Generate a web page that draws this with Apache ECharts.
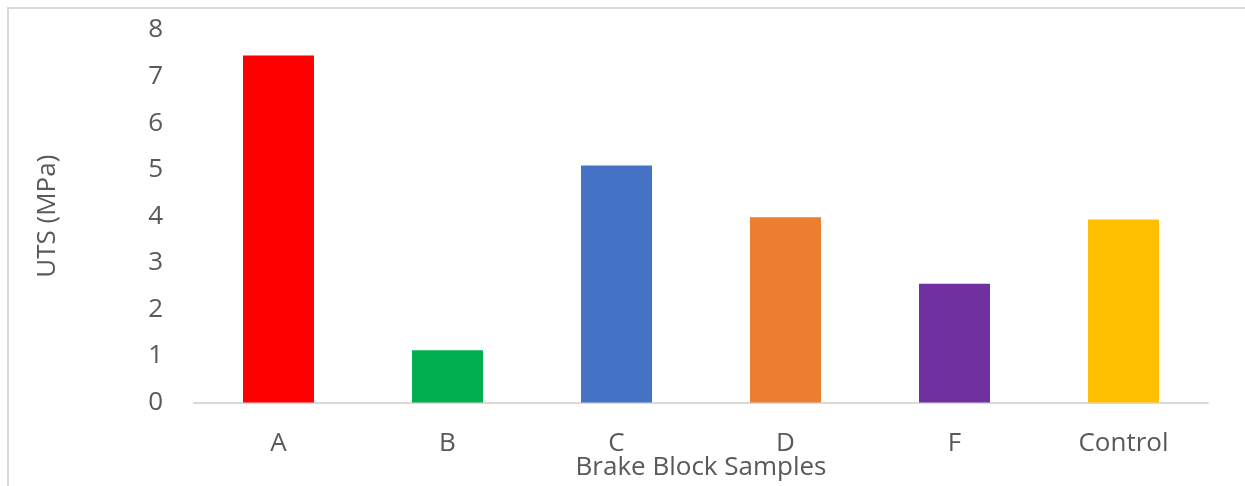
<!DOCTYPE html>
<html>
<head>
<meta charset="utf-8">
<script src="https://cdn.jsdelivr.net/npm/echarts@6/dist/echarts.min.js"></script>
<style>
  html, body { margin: 0; padding: 0; background: #ffffff; }
  #main { width: 1245px; height: 486px; }
</style>
</head>
<body>
<div id="main"></div>
<script>
var samples = ["A", "B", "C", "D", "F", "Control"];
var uts = [7.45, 1.12, 5.09, 3.98, 2.55, 3.93];
var barColors = ["#ff0000", "#00b050", "#4472c4", "#ed7d31", "#7030a0", "#ffc000"];
var yTicks = [0, 1, 2, 3, 4, 5, 6, 7, 8];

var chart = echarts.init(document.getElementById("main"));
var font = "'Open Sans', 'Noto Sans', sans-serif";

var option = {
  animation: false,
  backgroundColor: "#ffffff",
  graphic: [
    {
      // frame line round the chart area (only top and left show)
      type: "rect",
      shape: { x: 8, y: 8, width: 1300, height: 600 },
      style: { fill: "none", stroke: "#d9d9d9", lineWidth: 2 },
      silent: true
    }
  ],
  grid: {
    left: 194,
    right: 37,
    top: 30,
    bottom: 83.5,
    containLabel: false,
    outerBoundsMode: "none"
  },
  xAxis: {
    type: "category",
    data: samples,
    name: "Brake Block Samples",
    nameLocation: "middle",
    nameGap: 52,
    nameMoveOverlap: false,
    nameTextStyle: { color: "#595959", fontSize: 26, fontFamily: font },
    axisLine: { lineStyle: { color: "#d9d9d9", width: 2 } },
    axisTick: { show: false },
    axisLabel: {
      color: "#595959",
      fontSize: 26,
      fontFamily: font,
      margin: 28
    }
  },
  yAxis: {
    type: "value",
    min: yTicks[0],
    max: yTicks[yTicks.length - 1],
    interval: 1,
    name: "UTS (MPa)",
    nameLocation: "middle",
    nameGap: 133,
    nameMoveOverlap: false,
    nameRotate: 90,
    nameTextStyle: { color: "#595959", fontSize: 26, fontFamily: font },
    axisLine: { show: false },
    axisTick: { show: false },
    splitLine: { show: false },
    axisLabel: {
      color: "#595959",
      fontSize: 26,
      fontFamily: font,
      margin: 31
    }
  },
  series: [
    {
      type: "bar",
      barWidth: "42%",
      data: uts.map(function (v, i) {
        return { value: v, itemStyle: { color: barColors[i] } };
      })
    }
  ]
};

chart.setOption(option);
</script>
</body>
</html>
